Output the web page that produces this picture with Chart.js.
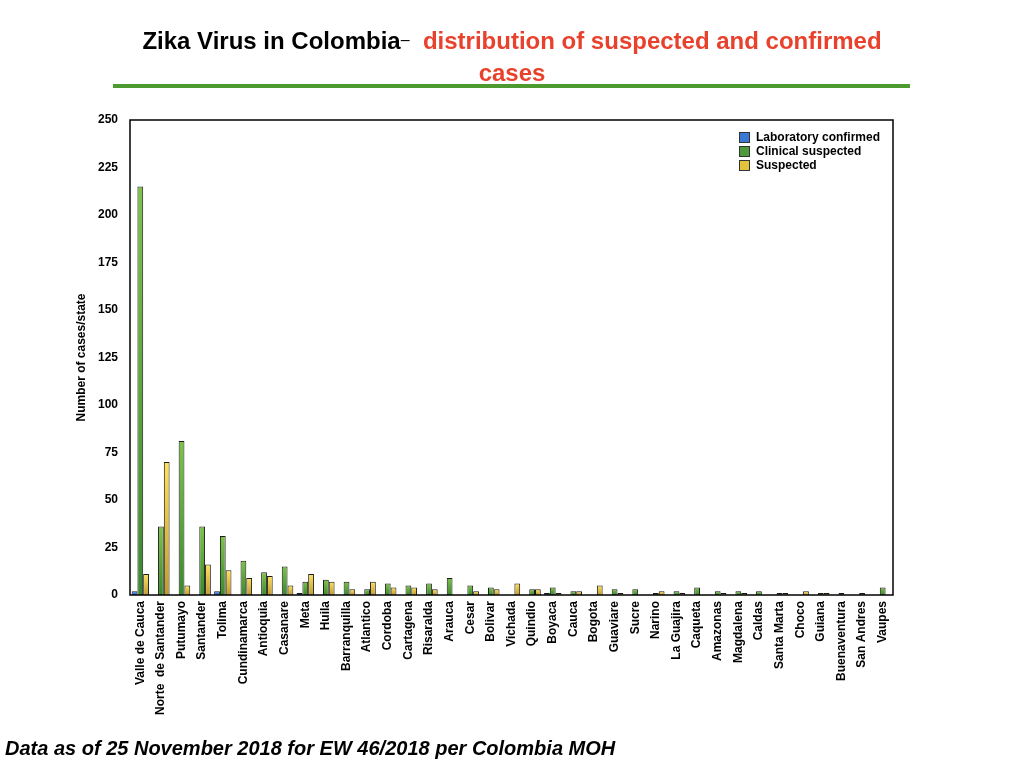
<!DOCTYPE html>
<html>
<head>
<meta charset="utf-8">
<script src="https://cdn.jsdelivr.net/npm/chart.js@4.4.1/dist/chart.umd.min.js"></script>
<style>
  html, body { margin:0; padding:0; background:#fff; }
  body { width:1024px; height:768px; position:relative; overflow:hidden; font-family:"Liberation Sans", Arial, Helvetica, sans-serif; }
  #wrap { position:absolute; left:0; top:0; width:1024px; height:768px; }
  #title { position:absolute; left:0; top:24px; width:1024px; text-align:center; font-weight:bold; font-size:24px; line-height:32px; }
  #title .red { color:#e8412c; }
  #title .dash { font-weight:normal; font-size:16px; vertical-align:4px; }
  #rule { position:absolute; left:113px; top:84px; width:797px; height:4px; background:#4c9a30; }
  #legend { position:absolute; left:739px; top:130px; font-weight:bold; font-size:12px; line-height:14px; }
  #legend div { display:flex; align-items:center; height:14px; }
  #legend span.sw { display:inline-block; width:9px; height:9px; border:1px solid #333; margin-right:6px; }
  #footer { position:absolute; left:5px; top:736px; font-weight:bold; font-style:italic; font-size:20px; line-height:24px; }
</style>
</head>
<body>
<div id="wrap"><canvas id="c" width="1024" height="768"></canvas></div>
<div id="title">Zika Virus in Colombia<span class="dash">–</span>&nbsp; <span class="red">distribution of suspected and confirmed</span><br><span class="red">cases</span></div>
<div id="rule"></div>
<div id="legend">
  <div><span class="sw" style="background:#3a78d6"></span>Laboratory confirmed</div>
  <div><span class="sw" style="background:#4e9a3c"></span>Clinical suspected</div>
  <div><span class="sw" style="background:#e3c23c"></span>Suspected</div>
</div>
<div id="footer">Data as of 25 November 2018 for EW 46/2018 per Colombia MOH</div>
<script>
const states = ["Valle de Cauca","Norte  de Santander","Putumayo","Santander","Tolima","Cundinamarca","Antioquia","Casanare","Meta","Huila","Barranquilla","Atlantico","Cordoba","Cartagena","Risaralda","Arauca","Cesar","Bolivar","Vichada","Quindio","Boyaca","Cauca","Bogota","Guaviare","Sucre","Narino","La Guajira","Caqueta","Amazonas","Magdalena","Caldas","Santa Marta","Choco","Guiana","Buenaventura","San Andres","Vaupes"];
const labConfirmed = [2,null,null,null,2,null,null,null,1,null,null,null,null,null,null,null,null,null,null,null,1,null,null,null,null,null,null,null,null,null,null,null,null,null,null,null,null];
const clinicalSuspected = [215,36,81,36,31,18,12,15,7,8,7,3,6,5,6,9,5,4,null,3,4,2,null,3,3,1,2,4,2,2,2,1,null,1,1,1,4];
const suspected = [11,70,5,16,13,9,10,5,11,7,3,7,4,4,3,null,2,3,6,3,1,2,5,1,null,2,1,null,1,1,null,1,2,1,null,null,null];
const yTicks = [0,25,50,75,100,125,150,175,200,225,250];

Chart.defaults.font.family = '"Liberation Sans", Arial, Helvetica, sans-serif';
Chart.defaults.color = '#000';

function grad(top, bottom, solid) {
  return function(ctx) {
    const chart = ctx.chart;
    const ys = chart.scales && chart.scales.y;
    if (!ys || ctx.raw == null || !chart.chartArea) return solid;
    const yTop = ys.getPixelForValue(ctx.raw);
    const yBot = ys.getPixelForValue(0);
    if (!isFinite(yTop) || !isFinite(yBot) || yBot - yTop < 1) return solid;
    const g = chart.ctx.createLinearGradient(0, yTop, 0, yBot);
    g.addColorStop(0, top);
    g.addColorStop(1, bottom);
    return g;
  };
}

const frame = {
  id: 'frame',
  afterDatasetsDraw(chart) {
    const a = chart.chartArea, c = chart.ctx;
    c.save();
    c.strokeStyle = '#000';
    c.lineWidth = 1.5;
    c.strokeRect(a.left, a.top, a.right - a.left, a.bottom - a.top);
    c.restore();
  }
};

new Chart(document.getElementById('c'), {
  type: 'bar',
  data: {
    labels: states,
    datasets: [
      { label: 'Laboratory confirmed', data: labConfirmed, backgroundColor: grad('#4a8ff0', '#2860c8', '#3a78d6') },
      { label: 'Clinical suspected', data: clinicalSuspected, backgroundColor: grad('#7ec24a', '#3a8a2c', '#52a03a') },
      { label: 'Suspected', data: suspected, backgroundColor: grad('#fde25a', '#c29a30', '#e8c53a') }
    ]
  },
  plugins: [frame],
  options: {
    responsive: false,
    animation: false,
    devicePixelRatio: 1,
    layout: { padding: { left: 56, right: 131, top: 120, bottom: 10 } },
    datasets: { bar: { borderColor: '#1a1a1a', borderWidth: 1, categoryPercentage: 0.84, barPercentage: 1.0 } },
    plugins: { legend: { display: false }, tooltip: { enabled: false } },
    scales: {
      x: {
        grid: { display: false, drawTicks: false },
        border: { display: false },
        ticks: { autoSkip: false, maxRotation: 90, minRotation: 90, padding: 6, font: { size: 12, weight: 'bold' }, color: '#000' },
        afterFit(s) { s.height = 163; }
      },
      y: {
        min: 0, max: 250,
        grid: { display: false, drawTicks: false },
        border: { display: false },
        afterBuildTicks(s) { s.ticks = yTicks.map(v => ({ value: v })); },
        ticks: { padding: 12, font: { size: 12, weight: 'bold' }, color: '#000' },
        title: { display: true, text: 'Number of cases/state', font: { size: 12, weight: 'bold' }, color: '#000', padding: { top: 18, bottom: 0 } },
        afterFit(s) { s.width = 74; }
      }
    }
  }
});
</script>
</body>
</html>
